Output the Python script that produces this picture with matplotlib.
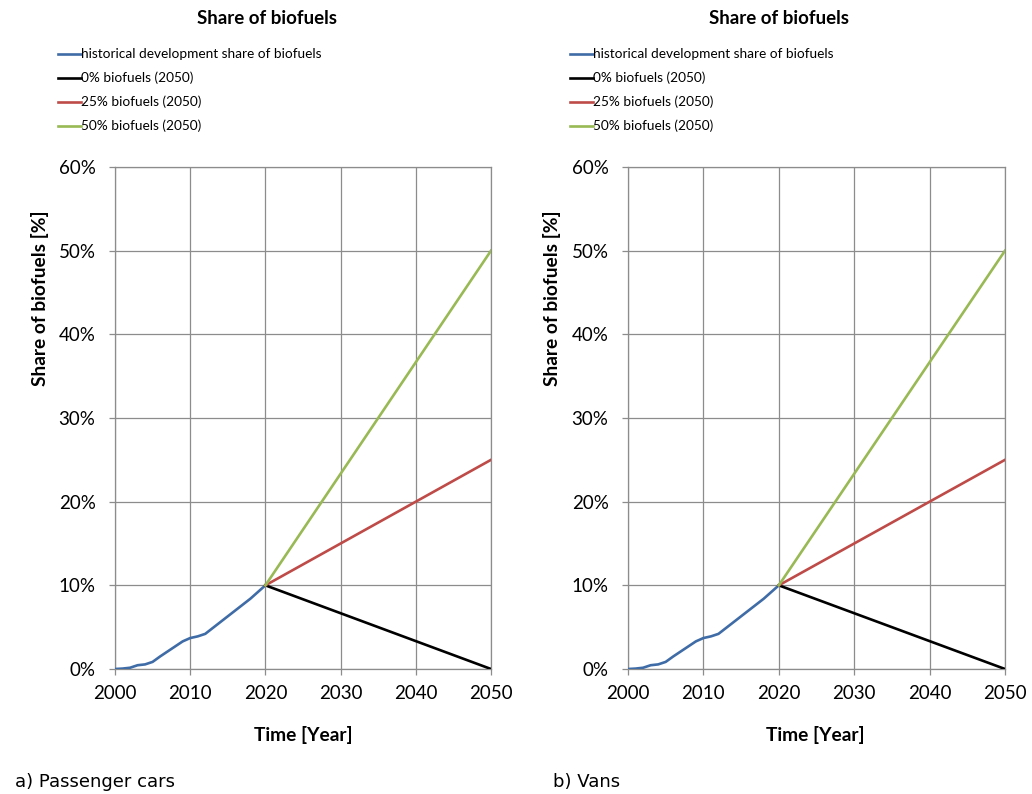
import matplotlib
matplotlib.use("Agg")
import matplotlib.pyplot as plt
from matplotlib.ticker import PercentFormatter
from matplotlib.lines import Line2D

# Historical share of biofuels (%), one value per year 2000-2020
hist_years = list(range(2000, 2021))
hist_share = [0.0, 0.05, 0.15, 0.45, 0.55, 0.85, 1.5, 2.1, 2.7, 3.3, 3.7,
              3.9, 4.2, 4.9, 5.6, 6.3, 7.0, 7.7, 8.4, 9.2, 10.0]

# Scenario paths from 2020 to 2050 (%)
scen_years = [2020, 2050]
scen_0 = [10.0, 0.0]
scen_25 = [10.0, 25.0]
scen_50 = [10.0, 50.0]

x_ticks = [2000, 2010, 2020, 2030, 2040, 2050]
y_ticks = [0, 10, 20, 30, 40, 50, 60]

labels = ["historical development share of biofuels", "0% biofuels (2050)",
          "25% biofuels (2050)", "50% biofuels (2050)"]
colors = ["#3f6ca6", "#000000", "#be4b48", "#98b954"]
captions = ["a) Passenger cars", "b) Vans"]

W, H = 1032, 794
fig = plt.figure(figsize=(W / 100, H / 100), dpi=100)

FONT = ["Lato", "DejaVu Sans"]
GRID = "#8c8c8c"
LW = 1.9


def fx(px):
    return px / W


def fy(py):
    return 1 - py / H


# panel geometry in pixels
panels = [
    dict(left=115, right=491, shift=0, cap_x=15),
    dict(left=628, right=1005, shift=512, cap_x=553),
]
top, bottom = 167, 669

for i, p in enumerate(panels):
    ax = fig.add_axes([fx(p["left"]), fy(bottom), fx(p["right"] - p["left"]),
                       (bottom - top) / H])
    ax.plot(hist_years, hist_share, color=colors[0], lw=LW, zorder=3,
            solid_joinstyle="round")
    ax.plot(scen_years, scen_0, color=colors[1], lw=LW, zorder=3)
    ax.plot(scen_years, scen_25, color=colors[2], lw=LW, zorder=3)
    ax.plot(scen_years, scen_50, color=colors[3], lw=LW, zorder=3)

    ax.set_xlim(2000, 2050)
    ax.set_ylim(0, 60)
    ax.set_xticks(x_ticks)
    ax.set_yticks(y_ticks)
    ax.yaxis.set_major_formatter(PercentFormatter(decimals=0))
    ax.grid(True, color=GRID, lw=0.9)
    ax.set_axisbelow(True)
    for s in ax.spines.values():
        s.set_color(GRID)
        s.set_linewidth(0.9)
    ax.tick_params(axis="both", colors=GRID, length=4.5, width=0.9,
                   labelcolor="black", labelsize=13.5)
    ax.tick_params(axis="y", pad=9.5)
    ax.tick_params(axis="x", pad=7)
    for t in ax.get_xticklabels() + ax.get_yticklabels():
        t.set_family(FONT)

    s = p["shift"]
    fig.text(fx(267 + s), fy(18), "Share of biofuels", ha="center", va="center",
             fontsize=13.5, fontweight="bold", family=FONT)
    fig.text(fx(303 + s), fy(735), "Time [Year]", ha="center", va="center",
             fontsize=13.8, fontweight="bold", family=FONT)
    fig.text(fx(40 + s), fy(298), "Share of biofuels [%]", ha="center",
             va="center", rotation=90, fontsize=13.8, fontweight="bold",
             family=FONT)
    fig.text(fx(p["cap_x"]), fy(782), captions[i], ha="left",
             va="center", fontsize=13, family="DejaVu Sans")

    # legend entries
    for k, (lab, c) in enumerate(zip(labels, colors)):
        yy = fy(54 + k * 24)
        fig.add_artist(Line2D([fx(58 + s), fx(81 + s)], [yy, yy], color=c,
                              lw=LW))
        fig.text(fx(81 + s), yy, lab, ha="left", va="center", fontsize=9.8,
                 family=FONT)

fig.savefig("out.png", dpi=100, facecolor="white")
